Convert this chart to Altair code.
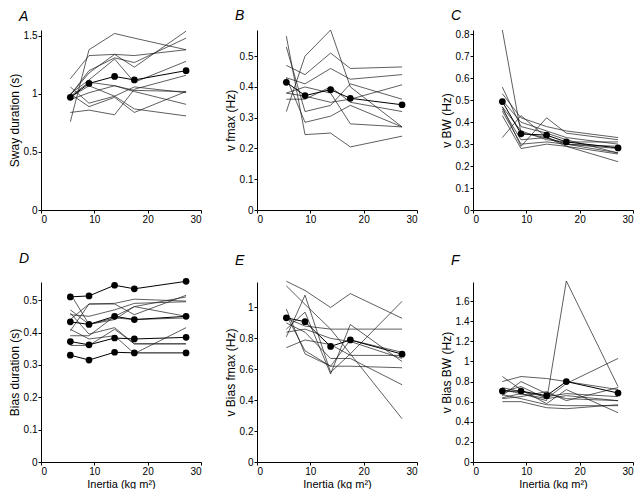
import altair as alt
import pandas as pd

X = [5.5, 9.0, 13.8, 17.5, 27.2]

# Panel A: Sway duration (s)
A_mean = [0.97, 1.09, 1.15, 1.12, 1.20]
A_subj = [
    [1.13, 1.33, 1.34, 1.33, 1.38],
    [0.76, 1.38, 1.52, 1.48, 1.38],
    [0.99, 1.18, 1.34, 1.23, 1.54],
    [0.99, 1.20, 1.31, 1.27, 1.48],
    [1.00, 1.12, 1.30, 1.10, 1.28],
    [1.06, 0.92, 0.98, 1.06, 1.01],
    [0.95, 1.01, 1.07, 1.03, 1.02],
    [0.84, 0.86, 0.82, 1.04, 1.16],
    [1.00, 0.89, 0.97, 0.84, 1.02],
    [0.97, 1.07, 0.98, 0.87, 0.81],
    [0.98, 1.10, 1.07, 1.02, 0.91],
]

# Panel B: v fmax (Hz)
B_mean = [0.415, 0.372, 0.391, 0.363, 0.342]
B_subj = [
    [0.32, 0.50, 0.585, 0.40, 0.27],
    [0.47, 0.44, 0.51, 0.46, 0.465],
    [0.43, 0.41, 0.46, 0.425, 0.44],
    [0.53, 0.32, 0.34, 0.41, 0.36],
    [0.565, 0.245, 0.25, 0.205, 0.24],
    [0.43, 0.285, 0.305, 0.34, 0.27],
    [0.38, 0.40, 0.38, 0.28, 0.27],
    [0.36, 0.36, 0.40, 0.35, 0.32],
    [0.38, 0.37, 0.35, 0.36, 0.407],
]

# Panel C: v BW (Hz)
C_mean = [0.494, 0.347, 0.341, 0.31, 0.283]
C_subj = [
    [0.82, 0.35, 0.33, 0.30, 0.28],
    [0.56, 0.38, 0.35, 0.32, 0.26],
    [0.53, 0.42, 0.38, 0.36, 0.33],
    [0.50, 0.40, 0.36, 0.33, 0.30],
    [0.47, 0.29, 0.42, 0.35, 0.32],
    [0.46, 0.32, 0.33, 0.29, 0.255],
    [0.43, 0.28, 0.30, 0.29, 0.22],
    [0.33, 0.43, 0.33, 0.30, 0.29],
    [0.45, 0.30, 0.31, 0.30, 0.26],
    [0.47, 0.36, 0.32, 0.31, 0.31],
]

# Panel D: Bias duration (s) - several lines drawn with dots
D_dots = [
    [0.51, 0.513, 0.546, 0.535, 0.558],
    [0.433, 0.425, 0.45, 0.44, 0.45],
    [0.372, 0.362, 0.383, 0.38, 0.385],
    [0.33, 0.315, 0.339, 0.337, 0.337],
]
D_subj = [
    [0.52, 0.425, 0.445, 0.44, 0.445],
    [0.47, 0.425, 0.44, 0.48, 0.51],
    [0.405, 0.488, 0.488, 0.455, 0.515],
    [0.44, 0.488, 0.49, 0.503, 0.497],
    [0.455, 0.45, 0.47, 0.49, 0.495],
    [0.46, 0.395, 0.415, 0.365, 0.365],
    [0.39, 0.39, 0.45, 0.48, 0.45],
    [0.41, 0.38, 0.39, 0.335, 0.415],
    [0.36, 0.36, 0.41, 0.365, 0.365],
]

# Panel E: v Bias fmax (Hz)
E_mean = [0.933, 0.908, 0.748, 0.79, 0.698]
E_subj = [
    [1.17, 1.11, 1.00, 1.09, 0.93],
    [1.14, 1.02, 0.86, 0.70, 0.28],
    [0.99, 0.70, 0.62, 0.62, 0.61],
    [0.81, 1.08, 0.58, 0.70, 1.04],
    [0.74, 0.79, 0.76, 0.69, 0.69],
    [0.86, 0.97, 0.57, 0.89, 0.65],
    [0.93, 0.88, 0.86, 0.86, 0.86],
    [0.90, 0.84, 0.67, 0.67, 0.50],
    [0.95, 0.72, 0.62, 0.79, 0.71],
    [0.84, 0.86, 0.80, 0.78, 0.67],
]

# Panel F: v Bias BW (Hz)
F_mean = [0.705, 0.705, 0.66, 0.80, 0.686]
F_subj = [
    [0.72, 0.68, 0.61, 1.80, 0.75],
    [0.70, 0.75, 0.63, 0.78, 1.03],
    [0.85, 0.72, 0.58, 0.72, 0.49],
    [0.80, 0.85, 0.83, 0.80, 0.72],
    [0.66, 0.80, 0.68, 0.63, 0.61],
    [0.63, 0.65, 0.70, 0.61, 0.74],
    [0.60, 0.60, 0.54, 0.53, 0.57],
    [0.67, 0.63, 0.57, 0.56, 0.56],
    [0.64, 0.68, 0.63, 0.66, 0.61],
    [0.74, 0.70, 0.65, 0.68, 0.65],
]

Y_TITLES = ["Sway duration (s)", "v fmax (Hz)", "v BW (Hz)",
            "Bias duration (s)", "v Bias fmax (Hz)", "v Bias BW (Hz)"]
Y_MAX = [1.55, 0.585, 0.82, 0.556, 1.165, 1.79]
Y_TICKS = [
    [0, 0.5, 1, 1.5],
    [0, 0.1, 0.2, 0.3, 0.4, 0.5],
    [0, 0.1, 0.2, 0.3, 0.4, 0.5, 0.6, 0.7, 0.8],
    [0, 0.1, 0.2, 0.3, 0.4, 0.5],
    [0, 0.2, 0.4, 0.6, 0.8, 1.0],
    [0, 0.2, 0.4, 0.6, 0.8, 1.0, 1.2, 1.4, 1.6],
]
LETTERS = ["A", "B", "C", "D", "E", "F"]
X_TITLE = "Inertia (kg m²)"

FONT = "Liberation Sans"
W, H = 160, 180


def make_df(subj, dotted):
    rows = []
    for i, s in enumerate(subj):
        for x, y in zip(X, s):
            rows.append({"sid": f"s{i}", "x": x, "y": y, "kind": "subj"})
    for j, s in enumerate(dotted):
        for x, y in zip(X, s):
            rows.append({"sid": f"m{j}", "x": x, "y": y, "kind": "mean"})
    return pd.DataFrame(rows)


def panel(idx, subj, dotted, bottom):
    df = make_df(subj, dotted)
    xenc = alt.X("x:Q", scale=alt.Scale(domain=[0, 30], nice=False),
                 axis=alt.Axis(values=[0, 10, 20, 30], format="d",
                               title=X_TITLE if bottom else None))
    yenc = alt.Y("y:Q", scale=alt.Scale(domain=[0, Y_MAX[idx]], nice=False, zero=True),
                 axis=alt.Axis(values=Y_TICKS[idx], format=".1~f", title=Y_TITLES[idx],
                               titleFontSize=12))
    base = alt.Chart(df)
    thin = base.transform_filter("datum.kind == 'subj'").mark_line(
        color="#1a1a1a", strokeWidth=0.7).encode(x=xenc, y=yenc, detail="sid:N")
    mean = base.transform_filter("datum.kind == 'mean'").mark_line(
        color="black", strokeWidth=1.0).encode(x=xenc, y=yenc, detail="sid:N")
    pts = base.transform_filter("datum.kind == 'mean'").mark_circle(
        color="black", opacity=1, size=45).encode(x=xenc, y=yenc)
    return alt.layer(thin, mean, pts).properties(
        width=W, height=H,
        title=alt.TitleParams(LETTERS[idx], anchor="start", frame="group",
                              fontStyle="italic", fontWeight="normal", fontSize=14,
                              font=FONT, color="black", dx=-22,
                              offset=12 if bottom else 6),
    )


panels = [
    panel(0, A_subj, [A_mean], False),
    panel(1, B_subj, [B_mean], False),
    panel(2, C_subj, [C_mean], False),
    panel(3, D_subj, D_dots, True),
    panel(4, E_subj, [E_mean], True),
    panel(5, F_subj, [F_mean], True),
]

chart = alt.concat(*panels, columns=3, spacing={"row": 27, "column": 22}).properties(
    padding={"left": 0, "top": 0, "right": 0, "bottom": 0}
).configure_view(stroke=None).configure_axis(
    grid=False, domainColor="black", domainWidth=1, tickColor="black",
    tickSize=3, tickWidth=1, labelFont=FONT, labelFontSize=10, labelColor="black",
    titleFont=FONT, titleFontSize=11, titleFontWeight="normal", titleColor="black",
    labelPadding=1, titlePadding=2,
)

chart.save("out.html", embed_options={"renderer": "svg", "actions": False})
